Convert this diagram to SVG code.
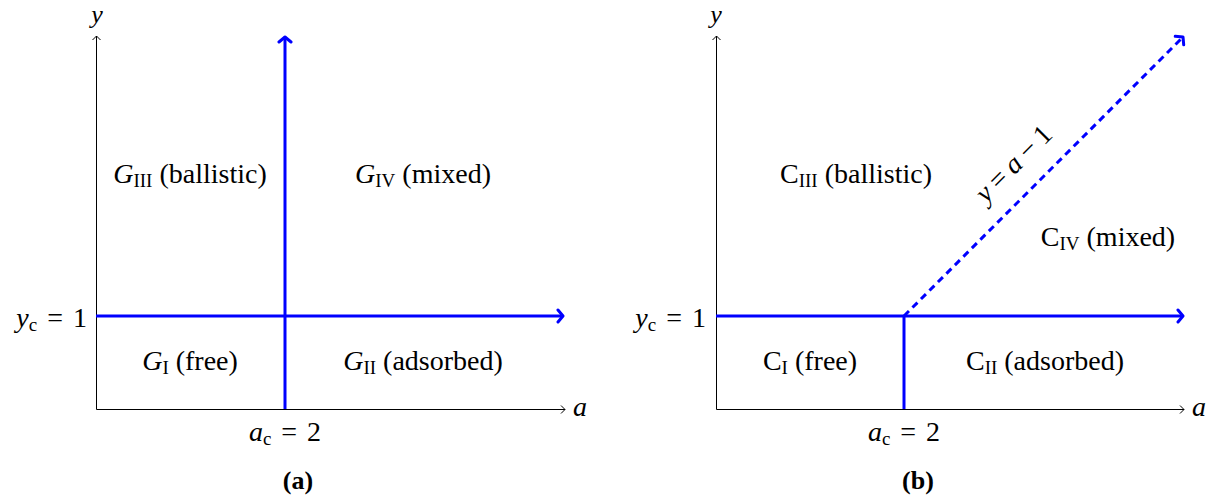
<svg xmlns="http://www.w3.org/2000/svg" width="1211" height="496" viewBox="0 0 1211 496">
<style>
text{font-family:"Liberation Serif","DejaVu Serif",serif;font-size:28px;fill:#000}
.it{font-style:italic}
.ax{font-size:26px}
.sub{font-size:19px;font-style:normal}
.cap{font-weight:bold;font-size:26px}
.axis{stroke:#000;stroke-width:1;fill:none}
.bl{stroke:#0000ff;stroke-width:3;fill:none}
.dash{stroke-dasharray:7 5}
</style>
<defs>
<marker id="ah" viewBox="-6 -6 8 12" markerWidth="8" markerHeight="12" refX="0" refY="0" orient="auto" markerUnits="userSpaceOnUse">
<path d="M-4,-4 L0,0 L-4,4" fill="none" stroke="#000" stroke-width="1"/>
</marker>
<marker id="bh" viewBox="-8 -8 10 16" markerWidth="10" markerHeight="16" refX="0" refY="0" orient="auto" markerUnits="userSpaceOnUse">
<path d="M-5,-6 L0,0 L-5,6" fill="none" stroke="#0000ff" stroke-width="3" stroke-linecap="round" stroke-linejoin="round"/>
</marker>
</defs>
<g id="connectors">
<line class="axis" x1="96.5" y1="409.5" x2="96.5" y2="36" marker-end="url(#ah)"/>
<line class="axis" x1="96.5" y1="409.5" x2="565" y2="409.5" marker-end="url(#ah)"/>
<line class="bl" x1="285" y1="409" x2="285" y2="37" marker-end="url(#bh)"/>
<line class="bl" x1="96" y1="316" x2="563" y2="316" marker-end="url(#bh)"/>
<line class="axis" x1="716.5" y1="409.5" x2="716.5" y2="36" marker-end="url(#ah)"/>
<line class="axis" x1="716.5" y1="409.5" x2="1184" y2="409.5" marker-end="url(#ah)"/>
<line class="bl" x1="716" y1="316" x2="1183" y2="316" marker-end="url(#bh)"/>
<line class="bl" x1="904" y1="316" x2="904" y2="409"/>
<line class="bl dash" x1="904" y1="316" x2="1183" y2="37" marker-end="url(#bh)"/>
</g>
<g id="panel-a">
<text id="a-yaxis" class="it ax" x="97" y="23" text-anchor="middle">y</text>
<text id="a-xaxis" class="it" x="573" y="416">a</text>
<text id="a-yc" x="87" y="327" text-anchor="end"><tspan class="it">y</tspan><tspan class="sub" dy="4">c</tspan><tspan dy="-4" dx="10">=</tspan><tspan dx="10">1</tspan></text>
<text id="a-ac" x="285" y="441" text-anchor="middle"><tspan class="it">a</tspan><tspan class="sub" dy="4">c</tspan><tspan dy="-4" dx="10">=</tspan><tspan dx="10">2</tspan></text>
<g id="node-GIII"><text x="190" y="183" text-anchor="middle"><tspan class="it">G</tspan><tspan class="sub" dy="4">III</tspan><tspan dy="-4"> (ballistic)</tspan></text></g>
<g id="node-GIV"><text x="423" y="183" text-anchor="middle"><tspan class="it">G</tspan><tspan class="sub" dy="4">IV</tspan><tspan dy="-4"> (mixed)</tspan></text></g>
<g id="node-GI"><text x="190" y="370" text-anchor="middle"><tspan class="it">G</tspan><tspan class="sub" dy="4">I</tspan><tspan dy="-4"> (free)</tspan></text></g>
<g id="node-GII"><text x="423" y="370" text-anchor="middle"><tspan class="it">G</tspan><tspan class="sub" dy="4">II</tspan><tspan dy="-4"> (adsorbed)</tspan></text></g>
<text id="cap-a" class="cap" x="298" y="489" text-anchor="middle">(a)</text>
</g>
<g id="panel-b">
<text id="b-yaxis" class="it ax" x="716" y="23" text-anchor="middle">y</text>
<text id="b-xaxis" class="it" x="1192" y="416">a</text>
<text id="b-yc" x="706" y="327" text-anchor="end"><tspan class="it">y</tspan><tspan class="sub" dy="4">c</tspan><tspan dy="-4" dx="10">=</tspan><tspan dx="10">1</tspan></text>
<text id="b-ac" x="904" y="441" text-anchor="middle"><tspan class="it">a</tspan><tspan class="sub" dy="4">c</tspan><tspan dy="-4" dx="10">=</tspan><tspan dx="10">2</tspan></text>
<g id="node-CIII"><text x="856" y="183" text-anchor="middle">C<tspan class="sub" dy="4">III</tspan><tspan dy="-4"> (ballistic)</tspan></text></g>
<g id="node-CIV"><text x="1108" y="246" text-anchor="middle">C<tspan class="sub" dy="4">IV</tspan><tspan dy="-4"> (mixed)</tspan></text></g>
<g id="node-CI"><text x="810" y="370" text-anchor="middle">C<tspan class="sub" dy="4">I</tspan><tspan dy="-4"> (free)</tspan></text></g>
<g id="node-CII"><text x="1045" y="370" text-anchor="middle">C<tspan class="sub" dy="4">II</tspan><tspan dy="-4"> (adsorbed)</tspan></text></g>
<text id="diag-label" x="0" y="0" text-anchor="middle" transform="translate(1020,170) rotate(-45)"><tspan class="it">y</tspan><tspan dx="6">=</tspan><tspan class="it" dx="6">a</tspan><tspan dx="6">−</tspan><tspan dx="6">1</tspan></text>
<text id="cap-b" class="cap" x="918" y="489" text-anchor="middle">(b)</text>
</g>
</svg>
